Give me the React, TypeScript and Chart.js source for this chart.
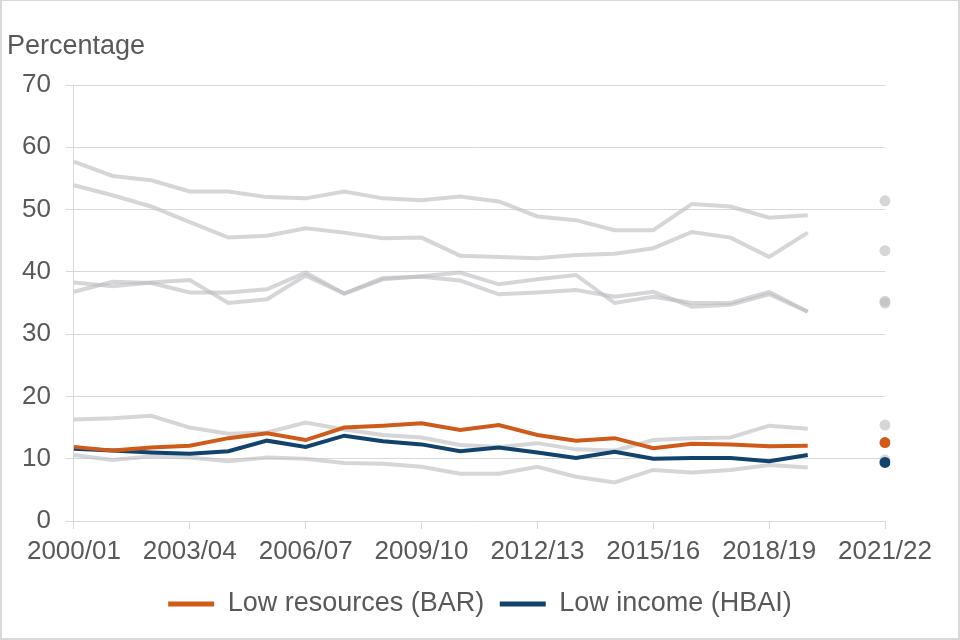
import React, { useEffect, useRef } from "react";
import { Chart, registerables } from "chart.js";

Chart.register(...registerables);

const years = [
  "2000/01", "2001/02", "2002/03", "2003/04", "2004/05", "2005/06", "2006/07",
  "2007/08", "2008/09", "2009/10", "2010/11", "2011/12", "2012/13", "2013/14",
  "2014/15", "2015/16", "2016/17", "2017/18", "2018/19", "2019/20", "2020/21", "2021/22",
];
const shownTickLabels = ["2000/01", "2003/04", "2006/07", "2009/10", "2012/13", "2015/16", "2018/19", "2021/22"];
const yTicks = [0, 10, 20, 30, 40, 50, 60, 70];
const yAxisTitle = "Percentage";

const lowResourcesLabel = "Low resources (BAR)";
const lowIncomeLabel = "Low income (HBAI)";

const lowResources = [11.9, 11.3, 11.8, 12.1, 13.3, 14.1, 13.0, 15.0, 15.3, 15.7, 14.6, 15.4, 13.8, 12.9, 13.3, 11.7, 12.4, 12.3, 12.0, 12.1, null, 12.6];
const lowIncome = [11.6, 11.3, 11.0, 10.8, 11.2, 12.9, 11.9, 13.7, 12.8, 12.3, 11.2, 11.8, 11.0, 10.1, 11.1, 10.0, 10.1, 10.1, 9.6, 10.6, null, 9.4];

const otherMeasure1 = [57.7, 55.4, 54.7, 52.9, 52.9, 52.0, 51.8, 52.9, 51.8, 51.5, 52.1, 51.3, 48.9, 48.3, 46.7, 46.7, 50.9, 50.5, 48.7, 49.1, null, 51.4];
const otherMeasure2 = [53.9, 52.3, 50.5, 48.0, 45.5, 45.8, 47.0, 46.3, 45.4, 45.5, 42.6, 42.4, 42.2, 42.7, 42.9, 43.8, 46.4, 45.5, 42.4, 46.3, null, 43.4];
const otherMeasure3 = [38.3, 37.7, 38.3, 38.7, 35.0, 35.6, 39.4, 36.5, 38.8, 39.3, 39.9, 38.0, 38.8, 39.5, 35.0, 36.0, 35.0, 35.0, 36.8, 33.6, null, 35.3];
const otherMeasure4 = [36.8, 38.4, 38.2, 36.7, 36.7, 37.2, 39.9, 36.5, 39.0, 39.2, 38.6, 36.4, 36.7, 37.1, 36.0, 36.8, 34.4, 34.7, 36.4, 33.6, null, 35.0];
const otherMeasure5 = [16.3, 16.5, 16.9, 15.0, 14.0, 14.2, 15.8, 14.7, 13.8, 13.4, 12.2, 11.9, 12.5, 11.5, 11.3, 13.0, 13.3, 13.4, 15.3, 14.8, null, 15.4];
const otherMeasure6 = [10.6, 9.8, 10.4, 10.2, 9.6, 10.2, 10.0, 9.3, 9.2, 8.7, 7.6, 7.6, 8.7, 7.1, 6.2, 8.2, 7.8, 8.2, 9.0, 8.6, null, 9.8];

const ORANGE = "#CF5B1B";
const NAVY = "#12436D";
const GREY = "rgba(187,187,191,0.6)";
const TEXT = "#595959";
const GRID = "#d9d9d9";
const FONT = '"Liberation Sans", Arial, sans-serif';

const lastIndex = years.length - 1;

function makeSeries(label: string, data: (number | null)[], color: string) {
  return {
    label,
    data,
    yAxisID: "y",
    borderColor: color,
    backgroundColor: color,
    pointBackgroundColor: color,
    pointBorderWidth: 0,
    borderWidth: 4,
    tension: 0,
    spanGaps: false,
    pointRadius: (ctx: any) => (ctx.dataIndex === lastIndex ? 5.5 : 0),
    pointHoverRadius: (ctx: any) => (ctx.dataIndex === lastIndex ? 5.5 : 0),
  };
}

const titlePlugin = {
  id: "percentageTitle",
  afterDraw(chart: any) {
    const ctx = chart.ctx;
    ctx.save();
    ctx.font = `27px ${FONT}`;
    ctx.fillStyle = TEXT;
    ctx.textAlign = "left";
    ctx.textBaseline = "alphabetic";
    ctx.fillText(yAxisTitle, 5, 52.5);
    ctx.restore();
  },
};

export default function App() {
  const canvasRef = useRef<HTMLCanvasElement | null>(null);

  useEffect(() => {
    document.body.style.margin = "0";
    const canvas = canvasRef.current;
    if (!canvas) return;
    const legendNames = [lowResourcesLabel, lowIncomeLabel];
    const chart = new Chart(canvas, {
      type: "line",
      data: {
        labels: years,
        datasets: [
          makeSeries(lowResourcesLabel, lowResources, ORANGE),
          makeSeries(lowIncomeLabel, lowIncome, NAVY),
          makeSeries("Other measure 1", otherMeasure1, GREY),
          makeSeries("Other measure 2", otherMeasure2, GREY),
          makeSeries("Other measure 3", otherMeasure3, GREY),
          makeSeries("Other measure 4", otherMeasure4, GREY),
          makeSeries("Other measure 5", otherMeasure5, GREY),
          makeSeries("Other measure 6", otherMeasure6, GREY),
        ] as any,
      },
      options: {
        animation: false,
        responsive: false,
        devicePixelRatio: 1,
        layout: { padding: { top: 84, left: 5, right: 5, bottom: 10.5 } },
        plugins: {
          tooltip: { enabled: false },
          title: { display: false },
          legend: {
            display: true,
            position: "bottom",
            labels: {
              color: TEXT,
              font: { family: FONT, size: 27 },
              boxWidth: 46,
              boxHeight: 5,
              padding: 15.5,
              generateLabels: (c: any) =>
                (Chart.defaults.plugins.legend.labels.generateLabels as any)(c)
                  .filter((item: any) => legendNames.includes(item.text))
                  .map((item: any) => ({ ...item, fillStyle: item.strokeStyle, lineWidth: 0 })),
            },
          },
        },
        scales: {
          x: {
            type: "category",
            offset: false,
            grid: {
              display: true,
              drawOnChartArea: false,
              drawTicks: true,
              tickLength: 8,
              color: (ctx: any) => (shownTickLabels.includes(years[ctx.index]) ? GRID : "rgba(0,0,0,0)"),
            },
            border: { display: true, color: GRID, width: 1 },
            ticks: {
              autoSkip: false,
              maxRotation: 0,
              minRotation: 0,
              padding: 7.4,
              color: TEXT,
              font: { family: FONT, size: 26 },
              callback: (_v: any, i: number) => (shownTickLabels.includes(years[i]) ? years[i] : ""),
            },
          },
          y: {
            position: "left",
            min: yTicks[0],
            max: yTicks[yTicks.length - 1],
            grid: { color: GRID, lineWidth: 1, tickLength: 8 },
            border: { display: true, color: GRID, width: 1 },
            afterBuildTicks: (axis: any) => {
              axis.ticks = yTicks.map((v) => ({ value: v }));
            },
            ticks: {
              padding: 15,
              color: TEXT,
              font: { family: FONT, size: 26 },
            },
          },
          rightSpace: {
            type: "linear",
            position: "right",
            display: true,
            grid: { display: false, drawTicks: false },
            border: { display: false },
            ticks: { display: false },
            afterFit: (axis: any) => {
              axis.width = 68;
            },
          },
        },
      } as any,
      plugins: [titlePlugin],
    });
    return () => chart.destroy();
  }, []);

  return (
    <div
      style={{
        position: "fixed",
        left: 0,
        top: 0,
        width: 960,
        height: 640,
        boxSizing: "border-box",
        borderStyle: "solid",
        borderColor: GRID,
        borderWidth: "1px 2px 2px 2px",
        background: "#fff",
      }}
    >
      <canvas ref={canvasRef} width={956} height={637} style={{ display: "block" }} />
    </div>
  );
}
